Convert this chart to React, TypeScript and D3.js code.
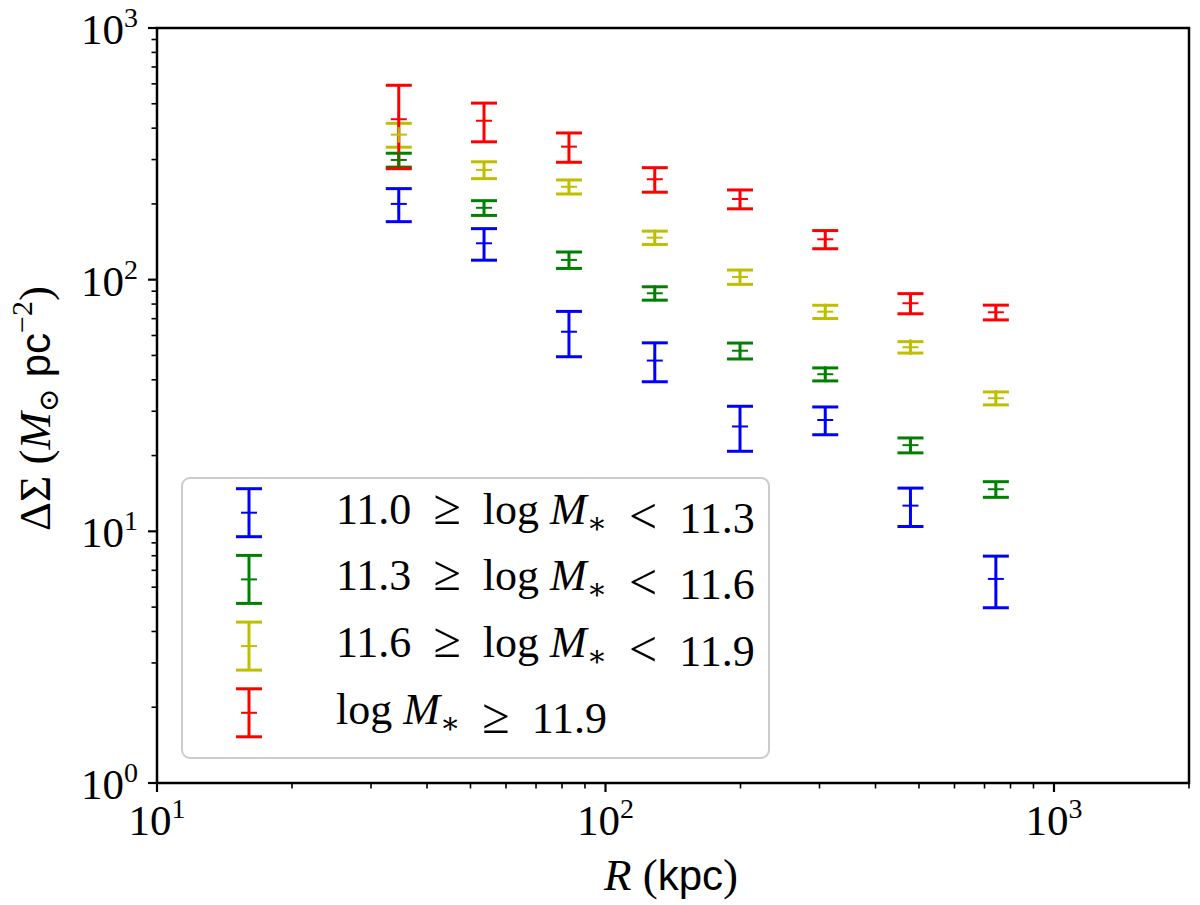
import { useEffect, useRef, FC } from 'react';
import * as d3 from 'd3';

// projected radius (kpc), shared by all bins
const radii = [34.6, 53.6, 82.9, 128.8, 199.5, 309, 478.6, 742];

// Delta Sigma (Msun / pc^2) and 1-sigma errors per stellar mass bin
const bin1Values = [200, 139.5, 62.1, 47.7, 26.1, 27.7, 12.65, 6.47];
const bin1Errors = [30, 20, 12.7, 8.4, 5.3, 3.5, 2.2, 1.5];

const bin2Values = [299, 193, 119.8, 88.3, 52.2, 42.1, 22.0, 14.7];
const bin2Errors = [19, 13, 9, 5.4, 3.8, 2.5, 1.5, 1.05];

const bin3Values = [377, 273, 234, 146.9, 102.5, 74.6, 53.9, 33.8];
const bin3Errors = [41, 21, 15, 9, 6.7, 4.5, 2.8, 2.0];

const bin4Values = [434, 428, 337.7, 250.6, 209.2, 144.7, 80.6, 74.2];
const bin4Errors = [158, 75, 45, 28, 18, 12, 7.4, 5];

const binColors = ['#0000ff', '#008000', '#bfbf00', '#ff0000'];
const binLow = ['11.0', '11.3', '11.6', null];
const binHigh = ['11.3', '11.6', '11.9', '11.9'];

const xDomain: [number, number] = [10, 2000];
const yDomain: [number, number] = [1, 1000];

const SERIF = '"Liberation Serif", "DejaVu Serif", serif';
const SANS = '"Liberation Sans", "DejaVu Sans", sans-serif';
const REL = '\u2002'; // wider space around relations, like TeX

type Sel = d3.Selection<SVGTextElement, unknown, null, undefined>;

const ErrorbarChart: FC<{ width: number; height: number }> = ({ width, height }) => {
  const ref = useRef<SVGSVGElement>(null);

  useEffect(() => {
    const left = 157;
    const right = 1189;
    const top = 28;
    const bottom = 783;

    const x = d3.scaleLog().domain(xDomain).range([left, right]);
    const y = d3.scaleLog().domain(yDomain).range([bottom, top]);

    const svg = d3.select(ref.current).attr('width', width).attr('height', height);
    svg.selectAll('*').remove();

    svg.append('rect').attr('width', width).attr('height', height).attr('fill', '#fff');

    const series = [
      { values: bin1Values, errors: bin1Errors },
      { values: bin2Values, errors: bin2Errors },
      { values: bin3Values, errors: bin3Errors },
      { values: bin4Values, errors: bin4Errors },
    ];

    const capHalf = 13;
    const markHalf = 8;

    // bars and caps first, then the centre markers on top (matplotlib zorder)
    const bars = svg.append('g');
    series.forEach((s, k) => {
      const g = bars.append('g').attr('stroke', binColors[k]).attr('fill', 'none');
      radii.forEach((r, i) => {
        const cx = x(r);
        const y0 = y(s.values[i] - s.errors[i]);
        const y1 = y(s.values[i] + s.errors[i]);
        g.append('line').attr('x1', cx).attr('x2', cx).attr('y1', y0).attr('y2', y1).attr('stroke-width', 3);
        [y0, y1].forEach((yy) =>
          g
            .append('line')
            .attr('x1', cx - capHalf)
            .attr('x2', cx + capHalf)
            .attr('y1', yy)
            .attr('y2', yy)
            .attr('stroke-width', 3)
        );
      });
    });
    const marks = svg.append('g');
    series.forEach((s, k) => {
      const g = marks.append('g').attr('stroke', binColors[k]).attr('stroke-width', 2);
      radii.forEach((r, i) => {
        const cx = x(r);
        const cy = y(s.values[i]);
        g.append('line').attr('x1', cx - markHalf).attr('x2', cx + markHalf).attr('y1', cy).attr('y2', cy);
        g.append('line').attr('x1', cx).attr('x2', cx).attr('y1', cy - markHalf).attr('y2', cy + markHalf);
      });
    });

    // ticks
    const isMajor = (t: number) => Math.abs(Math.log10(t) - Math.round(Math.log10(t))) < 1e-9;
    const ticks = svg.append('g').attr('stroke', '#000');
    x.ticks().forEach((t) => {
      const m = isMajor(t);
      ticks
        .append('line')
        .attr('x1', x(t))
        .attr('x2', x(t))
        .attr('y1', bottom)
        .attr('y2', bottom + (m ? 9 : 5.5))
        .attr('stroke-width', m ? 2.2 : 1.6);
    });
    y.ticks().forEach((t) => {
      const m = isMajor(t);
      ticks
        .append('line')
        .attr('x1', left)
        .attr('x2', left - (m ? 9 : 5.5))
        .attr('y1', y(t))
        .attr('y2', y(t))
        .attr('stroke-width', m ? 2.2 : 1.6);
    });

    const powerLabel = (t: Sel, exp: number) => {
      t.append('tspan').text('10');
      t.append('tspan').attr('font-size', 28).attr('dy', -17).text(String(exp));
    };

    x.ticks()
      .filter(isMajor)
      .forEach((t) => {
        svg
          .append('text')
          .attr('x', x(t))
          .attr('y', 835)
          .attr('text-anchor', 'middle')
          .attr('font-family', SERIF)
          .attr('font-size', 43)
          .call((s) => powerLabel(s as unknown as Sel, Math.round(Math.log10(t))));
      });
    y.ticks()
      .filter(isMajor)
      .forEach((t) => {
        svg
          .append('text')
          .attr('x', 138)
          .attr('y', y(t) + 16)
          .attr('text-anchor', 'end')
          .attr('font-family', SERIF)
          .attr('font-size', 43)
          .call((s) => powerLabel(s as unknown as Sel, Math.round(Math.log10(t))));
      });

    // spines
    svg
      .append('rect')
      .attr('x', left)
      .attr('y', top)
      .attr('width', right - left)
      .attr('height', bottom - top)
      .attr('fill', 'none')
      .attr('stroke', '#000')
      .attr('stroke-width', 2.5);

    // axis labels
    const xl = svg
      .append('text')
      .attr('x', (left + right) / 2 - 2)
      .attr('y', 890)
      .attr('text-anchor', 'middle')
      .attr('font-family', SERIF)
      .attr('font-size', 45);
    xl.append('tspan').attr('font-style', 'italic').text('R');
    xl.append('tspan').text(' (');
    xl.append('tspan').attr('font-family', SANS).attr('font-size', 42).text('kpc');
    xl.append('tspan').text(')');

    const yl = svg
      .append('text')
      .attr('transform', `translate(50,${(top + bottom) / 2 + 3}) rotate(-90)`)
      .attr('text-anchor', 'middle')
      .attr('font-family', SERIF)
      .attr('font-size', 45);
    yl.append('tspan').text('ΔΣ (');
    yl.append('tspan').attr('font-style', 'italic').text('M');
    yl.append('tspan').attr('font-size', 28).attr('dy', 8).text('⊙');
    yl.append('tspan').attr('dy', -8).text(' ');
    yl.append('tspan').attr('font-family', SANS).attr('font-size', 42).text('pc');
    yl.append('tspan').attr('font-size', 30).attr('dy', -18).text('−2');
    yl.append('tspan').attr('dy', 18).text(')');

    // legend
    const lg = svg.append('g');
    lg.append('rect')
      .attr('x', 182)
      .attr('y', 478)
      .attr('width', 587)
      .attr('height', 280)
      .attr('rx', 8)
      .attr('fill', '#fff')
      .attr('fill-opacity', 0.8)
      .attr('stroke', '#cccccc')
      .attr('stroke-width', 2);

    binColors.forEach((c, k) => {
      const cy = 512.7 + k * 66.7;
      const hx = 249;
      const h = lg.append('g').attr('stroke', c);
      h.append('line').attr('x1', hx).attr('x2', hx).attr('y1', cy - 24).attr('y2', cy + 24).attr('stroke-width', 3);
      [cy - 24, cy + 24].forEach((yy) =>
        h.append('line').attr('x1', hx - capHalf).attr('x2', hx + capHalf).attr('y1', yy).attr('y2', yy).attr('stroke-width', 3)
      );
      h.append('line').attr('x1', hx - markHalf).attr('x2', hx + markHalf).attr('y1', cy).attr('y2', cy).attr('stroke-width', 2);

      const t = lg
        .append('text')
        .attr('x', 336)
        .attr('y', cy + 11)
        .attr('font-family', SERIF)
        .attr('font-size', 44);
      const rel = (sym: string) => {
        t.append('tspan').text(REL);
        t.append('tspan').attr('font-size', 50).text(sym);
        t.append('tspan').text(REL);
      };
      if (binLow[k] !== null) {
        t.append('tspan').text(binLow[k] as string);
        rel('≥');
      }
      t.append('tspan').text('log ');
      t.append('tspan').attr('font-style', 'italic').text('M');
      t.append('tspan').attr('font-size', 30).attr('dy', 9).text('∗');
      t.append('tspan').attr('dy', -9).text('');
      rel(binLow[k] !== null ? '<' : '≥');
      t.append('tspan').text(binHigh[k]);
    });

    return () => {
      svg.selectAll('*').remove();
    };
  }, [width, height]);

  return <svg ref={ref} style={{ position: 'absolute', left: 0, top: 0 }}></svg>;
};

export default function App() {
  return <ErrorbarChart width={1200} height={905} />;
}
